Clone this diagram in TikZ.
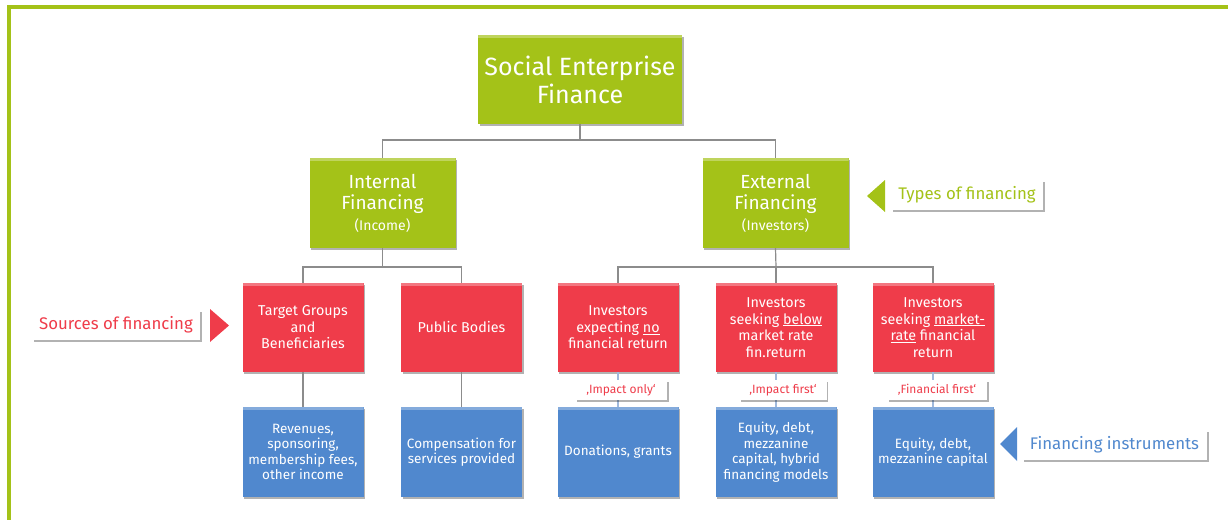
\documentclass[tikz,border=0pt]{standalone}
\usepackage{fontspec}
\setmainfont{Fira Sans}
\usetikzlibrary{shadows}
\definecolor{segreen}{RGB}{164,194,24}
\definecolor{sered}{RGB}{239,60,74}
\definecolor{seblue}{RGB}{80,136,206}
\definecolor{seline}{RGB}{140,140,140}
\definecolor{setick}{RGB}{160,185,220}
\begin{document}
\begin{tikzpicture}[x=1pt,y=-1pt,
  basebox/.style={draw=none, inner sep=2pt, align=center, text=white,
    drop shadow={shadow xshift=1.5pt, shadow yshift=-1.5pt, opacity=0.3, fill=black},
    path picture={\fill[white,opacity=0.3] (path picture bounding box.north west) rectangle ([yshift=-3pt]path picture bounding box.north east);}},
  gbox/.style={basebox, fill=segreen, minimum width=146pt, minimum height=90pt},
  rbox/.style={basebox, fill=sered, minimum width=121pt, minimum height=89pt,
    font=\fontsize{14.3}{16.5}\selectfont},
  bbox/.style={basebox, fill=seblue, minimum width=121pt, minimum height=90pt,
    font=\fontsize{13.5}{15.5}\selectfont},
  lbl/.style={fill=white, inner sep=1pt, minimum height=20pt, text=sered,
    font=\fontsize{12}{13}\selectfont,
    drop shadow={shadow xshift=1.5pt, shadow yshift=-1.5pt, opacity=0.3, fill=black}},
  side/.style={fill=white, inner sep=2pt, minimum height=30pt,
    font=\fontsize{16.8}{19}\selectfont,
    drop shadow={shadow xshift=2pt, shadow yshift=-2pt, opacity=0.3, fill=black}},
  conn/.style={draw=seline, line width=1.2pt},
  tick/.style={draw=setick, line width=1.2pt}]
\useasboundingbox (0,0) rectangle (1228,520);
% frame
\fill[segreen] (7,5) rectangle (1228,9);
\fill[segreen] (7,5) rectangle (11,520);
% top
\node[gbox, minimum width=204pt, minimum height=89pt, font=\fontsize{25}{28}\selectfont] (top) at (580,79.5) {Social Enterprise\\Finance};
% level 2
\node[gbox, font=\fontsize{19}{21}\selectfont] (int) at (382.5,203) {Internal\\Financing\\{\fontsize{14}{16}\selectfont (Income)}};
\node[gbox, font=\fontsize{19}{21}\selectfont] (ext) at (775.5,203) {External\\Financing\\{\fontsize{14}{16}\selectfont (Investors)}};
% level 3
\node[rbox] (tg) at (303,327.5) {Target Groups\\and\\Beneficiaries};
\node[rbox] (pb) at (461.5,327.5) {Public Bodies};
\node[rbox] (i1) at (618,327.5) {Investors\\expecting \underline{no}\\financial return};
\node[rbox] (i2) at (776,327.5) {Investors\\seeking \underline{below}\\market rate\\fin.return};
\node[rbox] (i3) at (933,327.5) {Investors\\seeking \underline{market-}\\\underline{rate} financial\\return};
% level 4
\node[bbox] (rv) at (303,452) {Revenues,\\sponsoring,\\membership fees,\\other income};
\node[bbox] (cp) at (461.5,452) {Compensation for\\services provided};
\node[bbox] (dg) at (618,452) {Donations, grants};
\node[bbox] (ed) at (776,452) {Equity, debt,\\mezzanine\\capital, hybrid\\financing models};
\node[bbox] (em) at (933,452) {Equity, debt,\\mezzanine capital};
% connectors
\coordinate (j1) at (580,140);
\coordinate (j2) at (382.5,267);
\coordinate (j3) at (776,267);
\draw[conn] (top.south) -- (j1);
\draw[conn] (int.north) |- (j1) -| (ext.north);
\draw[conn] (int.south) -- (j2);
\draw[conn] (tg.north) |- (j2) -| (pb.north);
\draw[conn] (ext.south) -- (j3);
\draw[conn] (i1.north) |- (j3) -| (i3.north);
\draw[conn] (j3) -- (i2.north);
\draw[conn] (tg.south) -- (rv.north);
\draw[conn] (pb.south) -- (cp.north);
\draw[tick] (i1.south) -- (dg.north);
\draw[tick] (i2.south) -- (ed.north);
\draw[tick] (i3.south) -- (em.north);
% small labels
\node[lbl, minimum width=92pt] (l1) at (621,390) {‚Impact only‘};
\node[lbl, minimum width=87pt] (l2) at (783,390) {‚Impact first‘};
\node[lbl, minimum width=100pt] (l3) at (937,390) {‚Financial first‘};
% side labels
\node[side, minimum width=152pt, text=segreen] (types) at (967,195) {Types of financing};
\fill[segreen] (867,196) -- (885,180) -- (885,212) -- cycle;
\node[side, minimum width=168pt, text=sered] (sources) at (116,325) {Sources of financing};
\fill[sered] (229,325.5) -- (210,309) -- (210,342) -- cycle;
\node[side, minimum width=185pt, text=seblue] (instr) at (1114.5,445) {Financing instruments};
\fill[seblue] (1000,444) -- (1017,427) -- (1017,461) -- cycle;
\end{tikzpicture}
\end{document}
